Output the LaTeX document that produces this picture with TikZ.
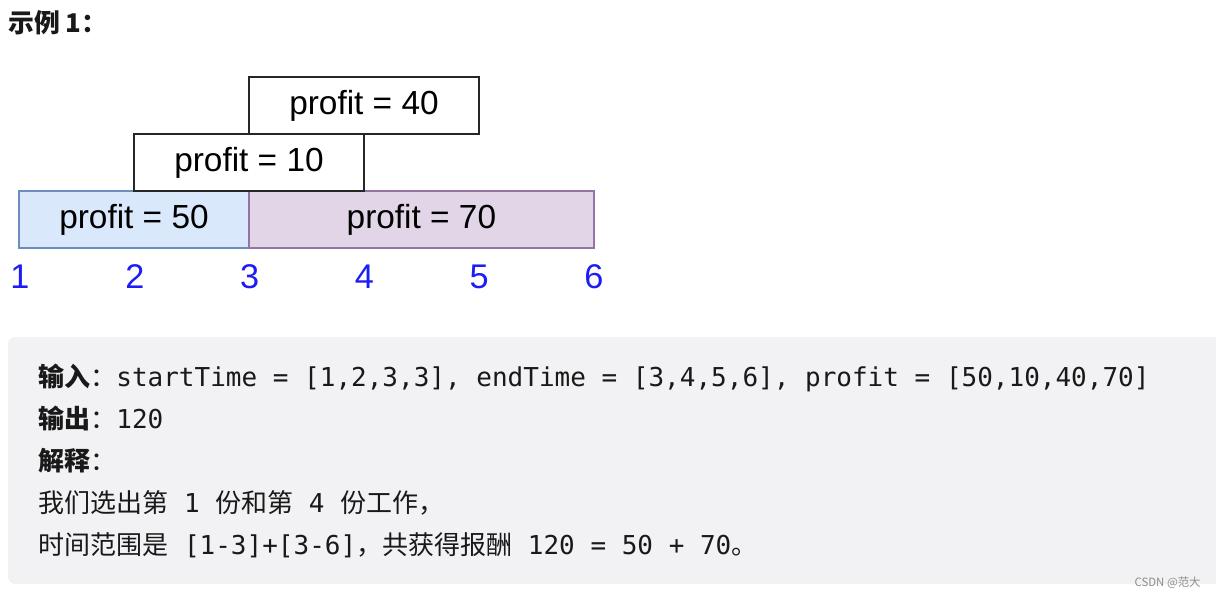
\documentclass[tikz,border=0pt]{standalone}
\usepackage{fontspec}
\setmainfont{Liberation Sans}
\setmonofont{DejaVu Sans Mono}
\newfontfamily\cjk{Noto Sans CJK SC}
\usepackage{xcolor}
\usetikzlibrary{positioning}

\definecolor{jobblue}{RGB}{218,232,252}
\definecolor{jobblueline}{RGB}{108,142,191}
\definecolor{jobpurple}{RGB}{225,213,231}
\definecolor{jobpurpleline}{RGB}{150,115,166}
\definecolor{ticknum}{RGB}{28,28,245}
\definecolor{codebg}{RGB}{242,242,244}
\definecolor{codetext}{RGB}{25,25,25}

\begin{document}
\begin{tikzpicture}[x=0.02cm, y=-0.02cm]
        % --- estilos ---
        \tikzstyle{job} = [
            rectangle,
            minimum width=4.6cm,
            minimum height=1.14cm,
            inner sep=0pt,
            outer sep=0pt,
            align=center,
            draw=black!85,
            line width=1.1pt,
            fill=white,
            font=\fontsize{19pt}{22pt}\selectfont
        ]
        \tikzstyle{tick} = [text=ticknum, inner sep=0pt, font=\fontsize{19.5pt}{22pt}\selectfont]
        \tikzstyle{codeline} = [
            anchor=base west,
            inner sep=0pt,
            text=codetext,
            font=\ttfamily\fontsize{14.8pt}{18pt}\selectfont
        ]

        \useasboundingbox (0,0) rectangle (1216,598);

        % --- titulo ---
        \node (title) [anchor=base west, inner sep=0pt, text=codetext,
            font=\cjk\bfseries\fontsize{14.7pt}{18pt}\selectfont] at (8,33) {示例 1：};

        % --- intervalos ---
        \node (p50) [job, anchor=north west, fill=jobblue, draw=jobblueline, line width=0.9pt,
            minimum width=4.6cm] at (19,191) {profit = 50};
        \node (p70) [job, right=0pt of p50, fill=jobpurple, draw=jobpurpleline, line width=0.9pt,
            minimum width=6.9cm] {profit = 70};
        \node (p10) [job, anchor=north west] at (134,134) {profit = 10};
        \node (p40) [job, anchor=north west] at (249,77) {profit = 40};

        % --- eixo de tempo ---
        \foreach \i in {1,...,6}
            \node (t\i) [tick] at ({20+114.8*(\i-1)},277) {\i};

        % --- exemplo ---
        \fill [codebg, rounded corners=4pt] (8,337) rectangle (1240,584);
        \node (in) [codeline] at (38,386) {{\cjk\bfseries 输入}{\cjk ：}startTime = [1,2,3,3], endTime = [3,4,5,6], profit = [50,10,40,70]};
        \node (out) [codeline] at (38,428) {{\cjk\bfseries 输出}{\cjk ：}120};
        \node (expl) [codeline] at (38,470) {{\cjk\bfseries 解释}{\cjk ：}};
        \node (pick) [codeline] at (38,512) {{\cjk 我们选出第} 1 {\cjk 份和第} 4 {\cjk 份工作，}};
        \node (span) [codeline] at (38,554) {{\cjk 时间范围是} [1-3]+[3-6]{\cjk ，共获得报酬} 120 = 50 + 70{\cjk 。}};

        \node (mark) [anchor=east, inner sep=0pt, text=black!45,
            font=\cjk\fontsize{6.5pt}{8pt}\selectfont] at (1201,583) {CSDN @范大};
\end{tikzpicture}
\end{document}
